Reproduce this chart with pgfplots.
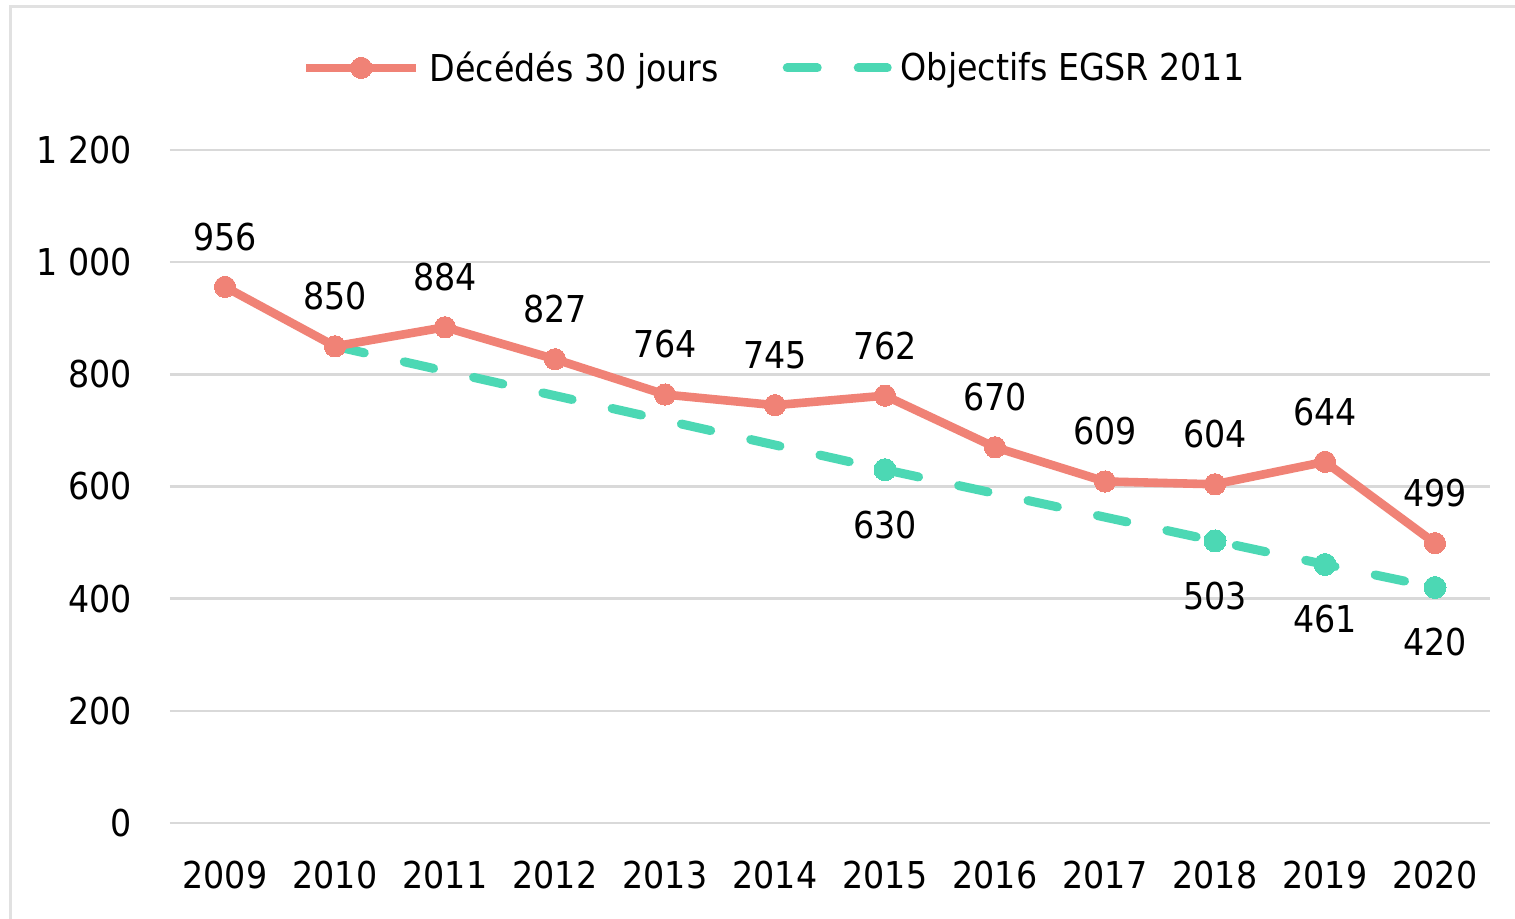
\documentclass[border=0pt]{standalone}
\usepackage{fontspec}
\setmainfont{DejaVu Sans Condensed}
\usepackage{pgfplots}
\pgfplotsset{compat=1.18}
\definecolor{rouge}{RGB}{240,130,118}
\definecolor{vert}{RGB}{76,216,180}
\definecolor{grille}{RGB}{217,217,217}
\definecolor{cadre}{RGB}{225,225,225}
\newcommand{\lbl}{\fontsize{18.5}{20}\selectfont}
\pgfplotsset{
  vertlegend/.style={legend image code/.code={\draw[##1] (2.5pt,0pt) -- (52.5pt,0pt);}},
  rougelegend/.style={legend image code/.code={\draw[mark repeat=2,mark phase=2,##1] plot coordinates {(0pt,0pt) (27.5pt,0pt) (55pt,0pt)};}},
}
\begin{document}
\begin{tikzpicture}[x=1pt,y=1pt]
\useasboundingbox (0,0) rectangle (757.5,459);
\fill[white] (0,0) rectangle (757.5,459);
\draw[cadre, line width=1.5pt] (5,-1) -- (5,455.5) -- (758,455.5);
\begin{axis}[
  at={(85pt,47.5pt)}, anchor=south west,
  scale only axis, width=660pt, height=336.5pt,
  xmin=2008.5, xmax=2020.5, ymin=0, ymax=1200,
  axis line style={draw=none},
  major tick length=0pt,
  ymajorgrids, grid style={grille, line width=1.2pt},
  xtick={2009,2010,2011,2012,2013,2014,2015,2016,2017,2018,2019,2020},
  xticklabels={2009,2010,2011,2012,2013,2014,2015,2016,2017,2018,2019,2020},
  ytick={0,200,400,600,800,1000,1200},
  yticklabels={0,200,400,600,800,1 000,1 200},
  tick label style={font=\lbl, text=black},
  yticklabel style={anchor=east, inner sep=0pt, xshift=-19pt},
  xticklabel style={anchor=center, inner sep=0pt, yshift=-26pt},
  /pgf/number format/assume math mode=true,
  clip=false,
  reverse legend,
  legend columns=2,
  legend style={draw=none, fill=none, at={(0.4585,1.122)}, anchor=center,
    font=\lbl, inner sep=0pt,
    /tikz/every odd column/.append style={column sep=2.5pt},
    /tikz/every even column/.append style={column sep=30pt}},
]
\addplot[vert, line width=4.5pt, line cap=round, dash pattern=on 15pt off 20.5pt, vertlegend]
  coordinates {(2010,850) (2015,630) (2018,503) (2019,461) (2020,420)};
\addlegendentry{Objectifs EGSR 2011}
\addplot[rouge, line width=4.3pt, line join=round, mark=*, mark size=5.3pt,
  mark options={solid, fill=rouge, draw=rouge, line width=0pt},
  nodes near coords,
  every node near coord/.style={anchor=center, yshift=25pt, font=\lbl, text=black},
  rougelegend]
  coordinates {(2009,956) (2010,850) (2011,884) (2012,827) (2013,764) (2014,745)
               (2015,762) (2016,670) (2017,609) (2018,604) (2019,644) (2020,499)};
\addlegendentry{Décédés 30 jours}
\addplot[forget plot, only marks, vert, mark=*, mark size=5.5pt,
  mark options={solid, fill=vert, draw=vert, line width=0pt},
  nodes near coords,
  every node near coord/.style={anchor=center, yshift=-27.5pt, font=\lbl, text=black}]
  coordinates {(2015,630) (2018,503) (2019,461) (2020,420)};
\end{axis}
\end{tikzpicture}
\end{document}
